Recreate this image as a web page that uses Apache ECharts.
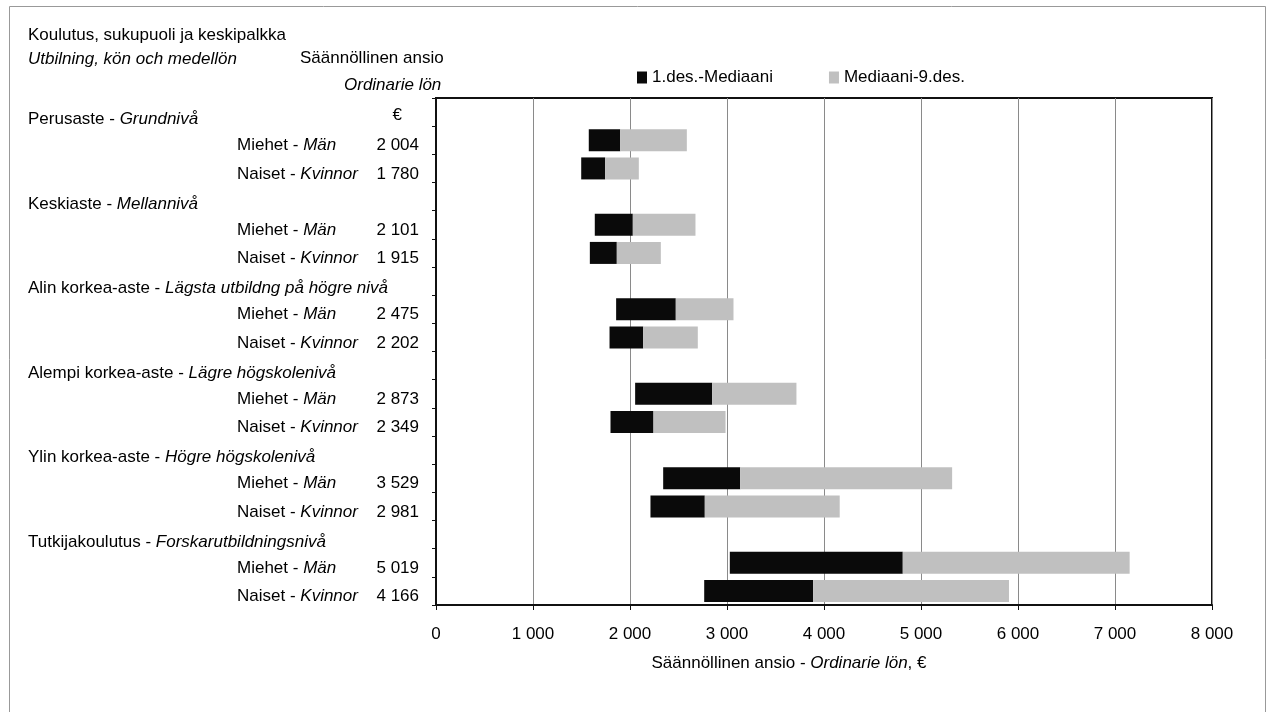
<!DOCTYPE html>
<html><head><meta charset="utf-8">
<script src="https://cdn.jsdelivr.net/npm/echarts@6/dist/echarts.min.js"></script>
<style>html,body{margin:0;padding:0;background:#fff}#c{width:1271px;height:712px}</style>
</head><body><div id="c"></div>
<script>
const groupFi = ['Perusaste','Keskiaste','Alin korkea-aste','Alempi korkea-aste','Ylin korkea-aste','Tutkijakoulutus'];
const groupSv = ['Grundnivå','Mellannivå','Lägsta utbildng på högre nivå','Lägre högskolenivå','Högre högskolenivå','Forskarutbildningsnivå'];
const genderFi = ['Miehet','Naiset'];
const genderSv = ['Män','Kvinnor'];
const meanMen   = [2004,2101,2475,2873,3529,5019];
const meanWomen = [1780,1915,2202,2349,2981,4166];
const p10Men    = [1575,1637,1857,2053,2342,3029];
const medMen    = [1899,2029,2472,2847,3136,4812];
const p90Men    = [2586,2675,3067,3716,5321,7151];
const p10Women  = [1497,1586,1789,1799,2211,2765];
const medWomen  = [1744,1864,2136,2242,2771,3888];
const p90Women  = [2091,2318,2699,2985,4162,5907];
const seriesNames = ['1.des.-Mediaani','Mediaani-9.des.'];
const titleFi = 'Koulutus, sukupuoli ja keskipalkka';
const titleSv = 'Utbilning, kön och medellön';
const colFi = 'Säännöllinen ansio';
const colSv = 'Ordinarie lön';
const colUnit = '€';
const xNameFi = 'Säännöllinen ansio - ';
const xNameSv = 'Ordinarie lön';

const FONT = "'Liberation Sans', Arial, sans-serif";
const FS = 17;

// build rows: header, men, women per group
const rows = [];
groupFi.forEach((g, i) => {
  rows.push({t:'h', g:i});
  rows.push({t:'m', g:i});
  rows.push({t:'w', g:i});
});
const cats = rows.map((r, i) => 'r' + i);
const p10 = rows.map(r => r.t==='h' ? null : (r.t==='m' ? p10Men[r.g] : p10Women[r.g]));
const med = rows.map(r => r.t==='h' ? null : (r.t==='m' ? medMen[r.g] : medWomen[r.g]));
const p90 = rows.map(r => r.t==='h' ? null : (r.t==='m' ? p90Men[r.g] : p90Women[r.g]));
const low = rows.map((r, i) => p10[i]==null ? null : med[i] - p10[i]);
const high = rows.map((r, i) => p10[i]==null ? null : p90[i] - med[i]);

const fmt = n => String(n).replace(/\B(?=(\d{3})+(?!\d))/g, ' ');
const txt = {fontFamily: FONT, fontSize: FS, color: '#000'};
const ital = Object.assign({}, txt, {fontStyle: 'italic'});

const chart = echarts.init(document.getElementById('c'), null, {renderer: 'canvas'});
chart.setOption({
  backgroundColor: '#fff',
  animation: false,
  title: [
    {text: titleFi, left: 23, top: 22, textStyle: Object.assign({}, txt, {fontWeight: 'normal'})},
    {text: titleSv, left: 23, top: 46, textStyle: Object.assign({}, ital, {fontWeight: 'normal'})},
    {text: colFi, left: 295, top: 45, textStyle: Object.assign({}, txt, {fontWeight: 'normal'})},
    {text: colSv, left: 339, top: 72, textStyle: Object.assign({}, ital, {fontWeight: 'normal'})}
  ],
  legend: {
    data: seriesNames, left: 632, top: 64, icon: 'rect', itemWidth: 10, itemHeight: 12,
    itemGap: 56, textStyle: Object.assign({}, txt), selectedMode: false
  },
  graphic: [{type: 'rect', shape: {x: 9.5, y: 6.5, width: 1256, height: 720}, style: {fill: 'none', stroke: '#999', lineWidth: 1}, silent: true}],
  grid: {left: 436, right: 59, top: 98, bottom: 107, show: true, borderColor: '#111', borderWidth: 2, backgroundColor: 'transparent'},
  xAxis: {
    type: 'value', min: 0, max: 8000, interval: 1000,
    axisLine: {show: true, lineStyle: {color: '#111', width: 2}},
    axisTick: {show: true, length: 5, lineStyle: {color: '#111'}},
    splitLine: {show: true, lineStyle: {color: '#8a8a8a', width: 1}},
    axisLabel: Object.assign({}, txt, {margin: 21, formatter: v => fmt(v)}),
    name: xNameFi + '{i|' + xNameSv + '}, €',
    nameLocation: 'middle', nameGap: 50,
    nameTextStyle: Object.assign({}, txt, {padding: [0, 70, 0, 0], rich: {i: ital}})
  },
  yAxis: [
    {
      type: 'category', data: cats, inverse: true,
      axisLine: {show: true, lineStyle: {color: '#111', width: 2}},
      axisTick: {show: true, length: 4, interval: 0, lineStyle: {color: '#111'}},
      splitLine: {show: false},
      axisLabel: Object.assign({}, txt, {
        interval: 0, margin: 17, align: 'right', padding: [11, 0, 0, 0],
        formatter: (v, i) => {
          const r = rows[i];
          if (r.t === 'h') return i === 0 ? '{e|' + colUnit + '}' : '';
          return fmt(r.t === 'm' ? meanMen[r.g] : meanWomen[r.g]);
        },
        rich: {e: Object.assign({}, txt, {padding: [0, 17, 5, 0]})}
      })
    },
    {
      type: 'category', data: cats, inverse: true, position: 'left',
      axisLine: {show: false}, axisTick: {show: false}, splitLine: {show: false},
      axisLabel: Object.assign({}, txt, {
        interval: 0, margin: 199, align: 'left', padding: [11, 0, 0, 0],
        formatter: (v, i) => {
          const r = rows[i];
          if (r.t === 'h') return '';
          const k = r.t === 'm' ? 0 : 1;
          return genderFi[k] + ' - {i|' + genderSv[k] + '}';
        },
        rich: {i: ital}
      })
    },
    {
      type: 'category', data: cats, inverse: true, position: 'left',
      axisLine: {show: false}, axisTick: {show: false}, splitLine: {show: false},
      axisLabel: Object.assign({}, txt, {
        interval: 0, margin: 408, align: 'left', padding: [15, 0, 0, 0],
        formatter: (v, i) => {
          const r = rows[i];
          if (r.t !== 'h') return '';
          return groupFi[r.g] + ' - {i|' + groupSv[r.g] + '}';
        },
        rich: {i: ital}
      })
    }
  ],
  series: [
    {name: 'base', type: 'bar', stack: 's', data: p10, barWidth: 22, silent: true,
     itemStyle: {color: 'rgba(0,0,0,0)'}, emphasis: {disabled: true}},
    {name: seriesNames[0], type: 'bar', stack: 's', data: low, barWidth: 22,
     itemStyle: {color: '#0a0a0a'}, emphasis: {disabled: true}},
    {name: seriesNames[1], type: 'bar', stack: 's', data: high, barWidth: 22,
     itemStyle: {color: '#c0c0c0'}, emphasis: {disabled: true}}
  ]
});
</script></body></html>
